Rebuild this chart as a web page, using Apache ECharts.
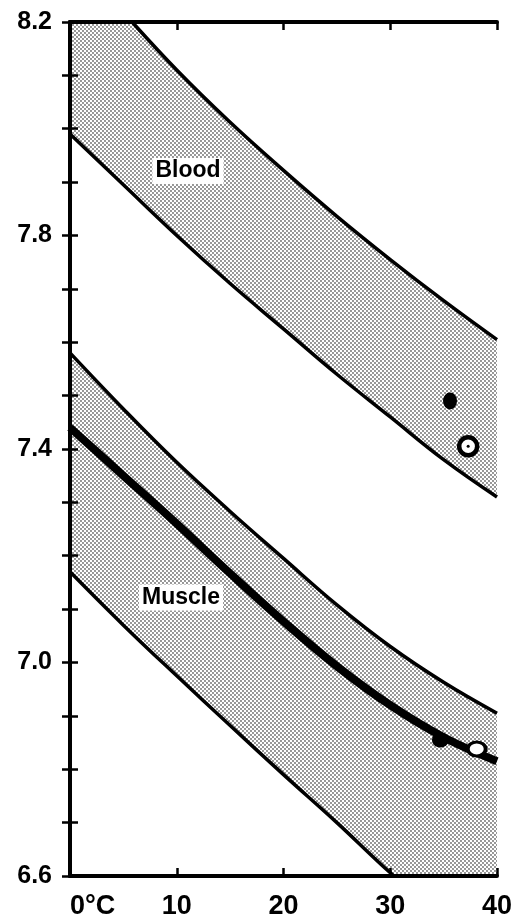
<!DOCTYPE html>
<html>
<head>
<meta charset="utf-8">
<script src="https://cdn.jsdelivr.net/npm/echarts@6/dist/echarts.min.js"></script>
<style>
html,body{margin:0;padding:0;background:#fff;}
#chart{width:520px;height:920px;}
</style>
</head>
<body>
<div id="chart"></div>
<script>
// Temperature (°C) sample positions
const temps = [0, 5, 10, 15, 20, 25, 30, 35, 40];
// pH boundaries
const bloodUpper  = [8.33, 8.218, 8.11, 8.012, 7.922, 7.836, 7.755, 7.678, 7.605];
const bloodLower  = [7.99, 7.895, 7.80, 7.71, 7.625, 7.54, 7.46, 7.38, 7.31];
const muscleUpper = [7.58, 7.475, 7.375, 7.283, 7.195, 7.108, 7.03, 6.963, 6.905];
const muscleMean  = [7.44, 7.35, 7.26, 7.167, 7.077, 6.993, 6.92, 6.86, 6.815];
const muscleLower = [7.17, 7.07, 6.975, 6.882, 6.79, 6.70, 6.606, 6.52, 6.44];
// measured points
const bloodFilled  = [[35.6, 7.49]];
const bloodOpen    = [[37.3, 7.405]];
const muscleFilled = [[34.7, 6.855]];
const muscleOpen   = [[38.1, 6.838]];
// band labels
const bandLabels = [
  {name: 'Blood',  value: [11.05, 7.921]},
  {name: 'Muscle', value: [10.4, 7.122]}
];
// axis ticks
const xTicks = [0, 10, 20, 30, 40];
const yLabelValues = [6.6, 7.0, 7.4, 7.8, 8.2];

function pts(ys) { return temps.map((t, i) => [t, ys[i]]); }

// stipple pattern
const pc = document.createElement('canvas');
pc.width = 4; pc.height = 4;
const g = pc.getContext('2d');
g.fillStyle = '#ffffff'; g.fillRect(0, 0, 4, 4);
g.fillStyle = '#000000';
g.beginPath(); g.arc(1, 1, 0.78, 0, Math.PI * 2); g.fill();
g.beginPath(); g.arc(3, 3, 0.78, 0, Math.PI * 2); g.fill();
const stipple = {image: pc, repeat: 'repeat'};

const FONT = "'Liberation Sans', Arial, Helvetica, sans-serif";
const thin = {color: '#000', width: 3.5};

function band(data, fill) {
  return {
    type: 'line', data: data, smooth: 0.4, symbol: 'none',
    lineStyle: thin, areaStyle: {color: fill, opacity: 1, origin: 'start'},
    silent: true, animation: false, clip: true, z: 2
  };
}

const chart = echarts.init(document.getElementById('chart'), null, {renderer: 'canvas'});
chart.setOption({
  backgroundColor: '#fff',
  animation: false,
  grid: {left: 70, right: 23, top: 22, bottom: 43},
  xAxis: [{
    type: 'value', position: 'bottom', min: 0, max: 40, interval: 10, z: 10,
    axisLine: {show: true, lineStyle: {color: '#000', width: 4}},
    axisTick: {show: true, inside: true, length: 8, lineStyle: {color: '#000', width: 2.5}},
    splitLine: {show: false},
    axisLabel: {
      show: true, margin: 17, color: '#000', fontSize: 27, fontWeight: 'bold', fontFamily: FONT,
      alignMinLabel: 'left',
      formatter: v => (xTicks.indexOf(v) < 0 ? '' : (v === 0 ? '0°C' : String(v)))
    }
  }, {
    type: 'value', position: 'top', min: 0, max: 40, interval: 10, z: 10,
    axisLine: {show: true, lineStyle: {color: '#000', width: 4}},
    axisTick: {show: true, inside: true, length: 8, lineStyle: {color: '#000', width: 2.5}},
    splitLine: {show: false}, axisLabel: {show: false}
  }],
  yAxis: [{
    type: 'value', position: 'left', min: 6.6, max: 8.2, interval: 0.1, z: 10,
    axisLine: {show: true, lineStyle: {color: '#000', width: 4}},
    axisTick: {show: true, inside: true, length: 8, lineStyle: {color: '#000', width: 2.5}},
    splitLine: {show: false},
    axisLabel: {
      show: true, margin: 18, color: '#000', fontSize: 25, fontWeight: 'bold', fontFamily: FONT,
      formatter: v => {
        const r = Math.round(v * 10) / 10;
        return yLabelValues.some(l => Math.abs(l - r) < 1e-6) ? r.toFixed(1) : '';
      }
    }
  }, {
    type: 'value', position: 'right', min: 6.6, max: 8.2, interval: 0.1, z: 10,
    axisLine: {show: true, lineStyle: {color: '#000', width: 4}},
    axisTick: {show: true, inside: true, length: 8, lineStyle: {color: '#000', width: 2.5}},
    splitLine: {show: false}, axisLabel: {show: false}
  }],
  series: [
    band(pts(bloodUpper), stipple),
    band(pts(bloodLower), '#ffffff'),
    band(pts(muscleUpper), stipple),
    band(pts(muscleLower), '#ffffff'),
    {
      type: 'line', data: pts(muscleMean), smooth: 0.4, symbol: 'none', z: 3,
      lineStyle: {color: '#000', width: 8}, silent: true, clip: true
    },
    {
      type: 'scatter', data: bloodFilled, symbol: 'circle', symbolSize: [14, 17], z: 5,
      itemStyle: {color: '#000', opacity: 1}, silent: true
    },
    {
      type: 'scatter', data: muscleFilled, symbol: 'circle', symbolSize: [17, 15], z: 5,
      itemStyle: {color: '#000', opacity: 1}, silent: true
    },
    {
      type: 'scatter', data: bloodOpen, symbol: 'circle', symbolSize: 18, z: 5,
      itemStyle: {color: '#fff', borderColor: '#000', borderWidth: 4.5, opacity: 1}, silent: true
    },
    {
      type: 'scatter', data: bloodOpen, symbol: 'circle', symbolSize: 3, z: 6,
      itemStyle: {color: '#000', opacity: 1}, silent: true
    },
    {
      type: 'scatter', data: muscleOpen, symbol: 'circle', symbolSize: [18, 14], z: 5,
      itemStyle: {color: '#fff', borderColor: '#000', borderWidth: 3.5, opacity: 1}, silent: true
    },
    {
      type: 'scatter', data: bandLabels, symbolSize: 1, silent: true, z: 7,
      itemStyle: {color: 'rgba(255,255,255,0)'},
      label: {
        show: true, position: 'inside', formatter: p => p.name, opacity: 1,
        color: '#000', fontSize: 23, fontWeight: 'bold', fontFamily: FONT,
        textBorderWidth: 0, textBorderColor: 'transparent',
        backgroundColor: '#fff', padding: [2, 3, 1, 3]
      }
    }
  ]
});
</script>
</body>
</html>
